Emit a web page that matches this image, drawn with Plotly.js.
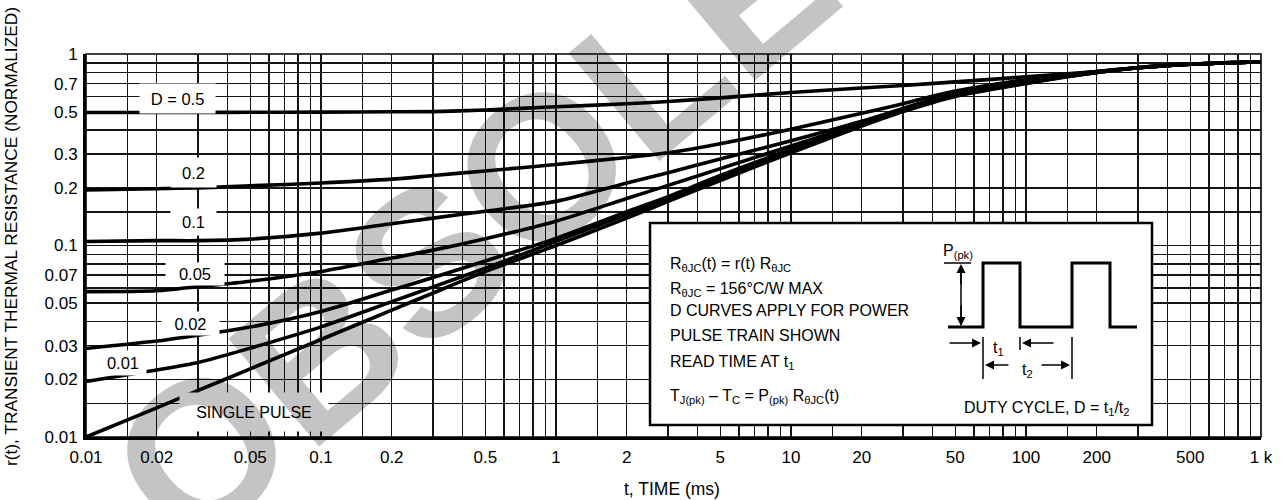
<!DOCTYPE html>
<html>
<head>
<meta charset="utf-8">
<script src="https://cdn.plot.ly/plotly-3.0.1.min.js"></script>
<style>
  html, body { margin: 0; padding: 0; background: #fff; }
  #chart { width: 1287px; height: 500px; }
</style>
</head>
<body>
<div id="chart"></div>
<script>
// ---------------- data ----------------
const timeMs = [0.01, 0.02, 0.03, 0.05, 0.1, 0.2, 0.3, 0.5, 1, 2, 3, 5, 10, 20, 30, 50, 100, 200, 300, 500, 1000];

const rD05    = [0.495, 0.495, 0.495, 0.496, 0.497, 0.499, 0.500, 0.510, 0.530, 0.550, 0.565, 0.590, 0.630, 0.665, 0.685, 0.715, 0.760, 0.810, 0.848, 0.885, 0.910];
const rD02    = [0.195, 0.198, 0.200, 0.205, 0.212, 0.222, 0.232, 0.245, 0.265, 0.288, 0.305, 0.340, 0.405, 0.490, 0.550, 0.640, 0.735, 0.810, 0.848, 0.885, 0.910];
const rD01    = [0.105, 0.106, 0.106, 0.108, 0.116, 0.130, 0.139, 0.151, 0.170, 0.212, 0.240, 0.283, 0.352, 0.445, 0.520, 0.625, 0.720, 0.810, 0.848, 0.885, 0.910];
const rD005   = [0.0574, 0.058, 0.061, 0.0651, 0.0732, 0.086, 0.0946, 0.1085, 0.134, 0.176, 0.206, 0.252, 0.331, 0.435, 0.515, 0.615, 0.715, 0.805, 0.848, 0.885, 0.910];
const rD002   = [0.029, 0.0317, 0.034, 0.0375, 0.0452, 0.0585, 0.068, 0.083, 0.109, 0.150, 0.180, 0.232, 0.318, 0.430, 0.510, 0.610, 0.710, 0.800, 0.848, 0.885, 0.910];
const rD001   = [0.0195, 0.0224, 0.0245, 0.0291, 0.0376, 0.0509, 0.0608, 0.0762, 0.105, 0.145, 0.175, 0.225, 0.310, 0.425, 0.505, 0.605, 0.705, 0.800, 0.848, 0.885, 0.910];
const rSingle = [0.010, 0.0142, 0.0175, 0.0227, 0.0323, 0.046, 0.0565, 0.073, 0.100, 0.139, 0.170, 0.218, 0.305, 0.420, 0.500, 0.600, 0.700, 0.800, 0.848, 0.885, 0.910];

const curveNames = ['D = 0.5', '0.2', '0.1', '0.05', '0.02', '0.01', 'SINGLE PULSE'];
const curveData  = [rD05, rD02, rD01, rD005, rD002, rD001, rSingle];

// grid / tick definitions
const decadeStarts    = [0.01, 0.1, 1, 10, 100];
const gridMultipliers = [1, 1.5, 2, 3, 4, 5, 6, 7, 8, 9];
const xTickVals  = [0.01, 0.02, 0.05, 0.1, 0.2, 0.5, 1, 2, 5, 10, 20, 50, 100, 200, 500, 1000];
const xTickText  = ['0.01', '0.02', '0.05', '0.1', '0.2', '0.5', '1', '2', '5', '10', '20', '50', '100', '200', '500', '1 k'];
const yDecades   = [0.01, 0.1];
const yTickVals  = [0.01, 0.02, 0.03, 0.05, 0.07, 0.1, 0.2, 0.3, 0.5, 0.7, 1];
const yTickText  = ['0.01', '0.02', '0.03', '0.05', '0.07', '0.1', '0.2', '0.3', '0.5', '0.7', '1'];

// ---------------- build ----------------
const FONT = '"Liberation Sans", Arial, sans-serif';

function buildGrid(starts, top) {
  const out = [];
  starts.forEach(d => gridMultipliers.forEach(m => out.push(+(d * m).toPrecision(6))));
  out.push(top);
  return out;
}
const xGrid = buildGrid(decadeStarts, 1000);
const yGrid = buildGrid(yDecades, 1);

const traces = curveData.map((ys, i) => ({
  type: 'scatter', mode: 'lines',
  x: timeMs, y: ys, name: curveNames[i],
  line: { color: '#000', width: 3.6, shape: 'spline', smoothing: 0.7 },
  hoverinfo: 'x+y+name'
}));

// pixel -> paper helpers for decorations
const W = 1287, H = 500, ML = 86, MR = 26, MT = 54, MB = 63;
const PW = W - ML - MR, PH = H - MT - MB;
const px = v => (v - ML) / PW;
const py = v => (H - MB - v) / PH;

const shapes = [];
// plot border (thin top/right)
shapes.push({ type: 'rect', xref: 'paper', yref: 'paper', x0: 0, x1: 1, y0: 0, y1: 1,
  line: { color: '#000', width: 1.6 }, layer: 'above' });
// info box
shapes.push({ type: 'rect', xref: 'paper', yref: 'paper', x0: px(650), x1: px(1152), y0: py(425), y1: py(223),
  fillcolor: '#fff', line: { color: '#000', width: 2.5 }, layer: 'above' });
// pulse train
const pulse = [[948,327],[983,327],[983,263],[1020,263],[1020,327],[1072,327],[1072,263],[1110,263],[1110,327],[1137,327]];
shapes.push({ type: 'path', xref: 'paper', yref: 'paper', layer: 'above',
  path: 'M ' + pulse.map(p => px(p[0]) + ',' + py(p[1])).join(' L '),
  line: { color: '#000', width: 3 } });
function seg(x0, y0, x1, y1, w) {
  shapes.push({ type: 'line', xref: 'paper', yref: 'paper', layer: 'above',
    x0: px(x0), y0: py(y0), x1: px(x1), y1: py(y1), line: { color: '#000', width: w } });
}
seg(944, 263, 971, 263, 1.5);
seg(961, 266, 961, 325, 1.5);
seg(983, 337, 983, 379, 1.5);
seg(1020, 337, 1020, 350, 1.5);
seg(1072, 337, 1072, 379, 1.5);

const annotations = [];
const BASE = 16;
function txt(text, x, y, opts) {
  annotations.push(Object.assign({ xref: 'paper', yref: 'paper', x: px(x), y: py(y), text: text,
    showarrow: false, font: { family: FONT, size: BASE, color: '#000' }, xanchor: 'center', yanchor: 'middle' }, opts || {}));
}
function arrow(xh, yh, dx, dy) {
  annotations.push({ xref: 'paper', yref: 'paper', x: px(xh), y: py(yh), ax: dx, ay: dy, text: '',
    showarrow: true, arrowhead: 2, arrowsize: 1.2, arrowwidth: 1.5, arrowcolor: '#000', standoff: 0 });
}

// curve labels (white boxes hide the grid)
const lblFont = { family: FONT, size: 16.5, color: '#000' };
const lblBox = { bgcolor: '#fff', font: lblFont };
txt(curveNames[0], 177, 98, Object.assign({ width: 73, height: 27 }, lblBox));
txt(curveNames[1], 193.5, 172, Object.assign({ width: 43, height: 27 }, lblBox));
txt(curveNames[2], 193.5, 222, Object.assign({ width: 43, height: 24 }, lblBox));
txt(curveNames[3], 195, 273.5, Object.assign({ width: 56, height: 20 }, lblBox));
txt(curveNames[4], 190, 323, Object.assign({ width: 55, height: 21 }, lblBox));
txt(curveNames[5], 123, 363, Object.assign({ width: 44, height: 22 }, lblBox));
txt(curveNames[6], 254, 412, Object.assign({ width: 146, height: 36 }, lblBox, { font: { family: FONT, size: 16, color: '#000' } }));

// info box text
const infoLines = [
  'R<sub>θJC</sub>(t) = r(t) R<sub>θJC</sub>',
  'R<sub>θJC</sub> = 156°C/W MAX',
  'D CURVES APPLY FOR POWER',
  'PULSE TRAIN SHOWN',
  'READ TIME AT t<sub>1</sub>',
  'T<sub>J(pk)</sub> – T<sub>C</sub> = P<sub>(pk)</sub> R<sub>θJC</sub>(t)'
];
const infoY = [264, 289, 310.5, 335, 362, 396];
infoLines.forEach((l, i) => txt(l, 668, infoY[i], { xanchor: 'left' }));

txt('P<sub>(pk)</sub>', 958, 252);
txt('t<sub>1</sub>', 998, 348);
txt('t<sub>2</sub>', 1027, 370);
txt('DUTY CYCLE, D = t<sub>1</sub>/t<sub>2</sub>', 1047, 408);

arrow(961, 264, 0, 22);
arrow(961, 326, 0, -22);
arrow(981, 343, -33, 0);
arrow(1022, 343, 33, 0);
arrow(985, 365, 25, 0);
arrow(1070, 365, -30, 0);

// axis titles
txt('r(t), TRANSIENT THERMAL RESISTANCE (NORMALIZED)', 11, 237, { textangle: -90, font: { family: FONT, size: 17.3, color: '#000' } });
txt('t, TIME (ms)', 672, 489, { font: { family: FONT, size: 17.5, color: '#000' } });

// watermark, drawn last: translucent black reads as light gray on white, black stays black
const WM = 'rgba(0,0,0,0.23)';
txt('OBSOLETE', 572, 140, { textangle: -40, font: { family: FONT, size: 205, color: WM, weight: 'bold' } });

const axisCommon = {
  type: 'log', tickmode: 'array', showgrid: true, gridcolor: '#151515', gridwidth: 1.5,
  zeroline: false, showline: true, linecolor: '#000', linewidth: 3, mirror: false,
  ticks: '', tickfont: { family: FONT, size: 17, color: '#000' }, automargin: false, fixedrange: true
};
const minorCommon = { showgrid: true, gridcolor: '#151515', gridwidth: 1.5, ticks: '' };

const layout = {
  width: W, height: H,
  margin: { l: ML, r: MR, t: MT, b: MB },
  paper_bgcolor: '#fff', plot_bgcolor: '#fff',
  showlegend: false,
  xaxis: Object.assign({}, axisCommon, { range: [-2, 3], tickvals: xTickVals, ticktext: xTickText, ticklabelstandoff: 3,
    minor: Object.assign({ tickmode: 'array', tickvals: xGrid }, minorCommon) }),
  yaxis: Object.assign({}, axisCommon, { range: [-2, 0], tickvals: yTickVals, ticktext: yTickText, ticklabelstandoff: 2,
    minor: Object.assign({ tickmode: 'array', tickvals: yGrid }, minorCommon) }),
  shapes: shapes,
  annotations: annotations
};

Plotly.newPlot('chart', traces, layout, { displayModeBar: false, staticPlot: true });
</script>
</body>
</html>
